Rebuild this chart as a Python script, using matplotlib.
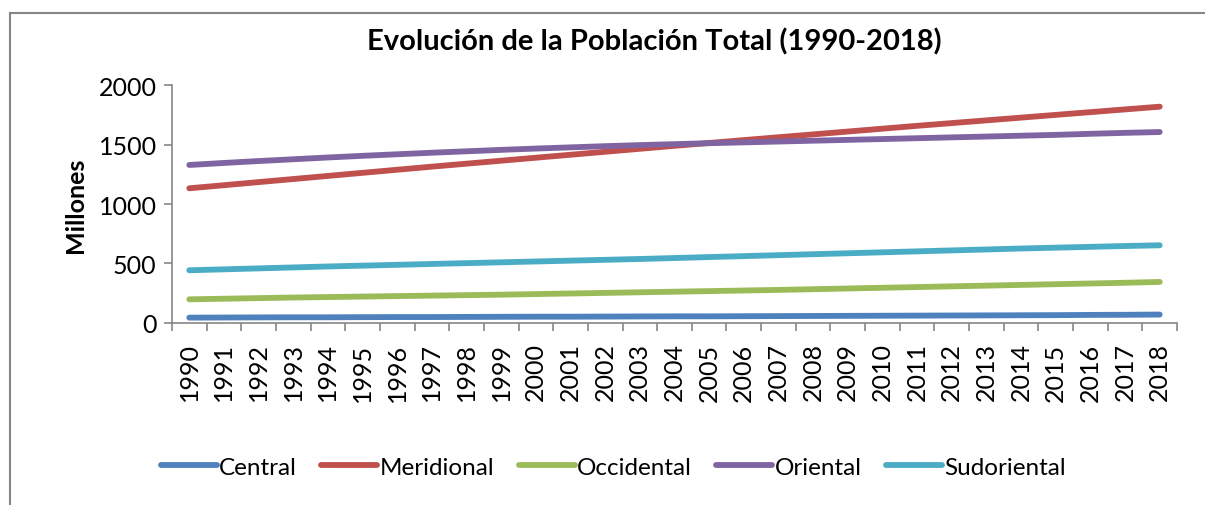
import matplotlib
matplotlib.use("Agg")
import matplotlib.pyplot as plt
from matplotlib.lines import Line2D
from matplotlib.ticker import FixedLocator

# ===== DATOS =====
years = [str(y) for y in range(1990, 2019)]
central = [45, 46, 47, 48, 48, 49, 50, 50, 51, 52, 53, 53, 54, 55, 56,
           56, 57, 58, 59, 60, 61, 62, 63, 64, 65, 66, 68, 69, 71]
meridional = [1132, 1158, 1184, 1210, 1236, 1262, 1288, 1314, 1339, 1364,
              1389, 1414, 1439, 1464, 1489, 1513, 1537, 1561, 1585, 1609,
              1633, 1657, 1680, 1703, 1726, 1749, 1772, 1795, 1818]
occidental = [199, 204, 209, 214, 218, 222, 226, 230, 234, 238, 243, 248,
              253, 258, 263, 268, 273, 278, 284, 290, 296, 302, 308, 314,
              320, 326, 332, 338, 345]
oriental = [1328, 1345, 1361, 1376, 1391, 1405, 1418, 1431, 1443, 1455,
            1466, 1476, 1486, 1495, 1503, 1511, 1518, 1525, 1532, 1539,
            1546, 1553, 1560, 1567, 1574, 1581, 1590, 1598, 1605]
sudoriental = [443, 451, 459, 467, 475, 482, 489, 496, 503, 510, 517, 524,
               531, 538, 546, 554, 562, 570, 578, 586, 594, 602, 610, 618,
               626, 633, 640, 647, 653]

series = [
    ("Central", central, "#4F81BD"),
    ("Meridional", meridional, "#C0504D"),
    ("Occidental", occidental, "#9BBB59"),
    ("Oriental", oriental, "#8064A2"),
    ("Sudoriental", sudoriental, "#4BACC6"),
]

plt.rcParams['font.family'] = ['Lato', 'DejaVu Sans']
AXIS_GRAY = "#868686"

fig = plt.figure(figsize=(12.05, 5.06), dpi=100)
ax = fig.add_axes([0.1427, 0.3597, 0.8341, 0.4703])

x = list(range(len(years)))
for name, vals, color in series:
    ax.plot(x, vals, color=color, lw=4.2, solid_capstyle="round", label=name)

ax.set_xlim(-0.5, len(years) - 0.5)
ax.set_ylim(0, 2000)
ax.set_yticks([0, 500, 1000, 1500, 2000])

# categorias: etiquetas en el centro, marcas entre categorias
ax.set_xticks(x)
ax.set_xticklabels(years, rotation=90)
ax.xaxis.set_minor_locator(FixedLocator([i - 0.5 for i in range(len(years) + 1)]))
ax.tick_params(axis="x", which="major", length=0, pad=14, labelsize=18)
ax.tick_params(axis="x", which="minor", length=6, width=1.2, color=AXIS_GRAY, direction="out")
ax.tick_params(axis="y", length=6, width=1.2, color=AXIS_GRAY, direction="out", labelsize=18, pad=5)

for side in ("top", "right"):
    ax.spines[side].set_visible(False)
for side in ("left", "bottom"):
    ax.spines[side].set_color(AXIS_GRAY)
    ax.spines[side].set_linewidth(1.2)

ax.set_ylabel("Millones", fontsize=18, fontweight="bold", labelpad=8)
fig.text(0.543, 0.917, "Evolución de la Población Total (1990-2018)",
         ha="center", va="center", fontsize=21, fontweight="bold")

fig.legend(loc="center", bbox_to_anchor=(0.509, 0.075), ncol=5, frameon=False,
           fontsize=17.5, handlelength=2.3, handletextpad=0.1, columnspacing=1.0)

# marco del grafico
fig.add_artist(Line2D([0.0083, 1.0], [0.9723, 0.9723], color=AXIS_GRAY, lw=1.5))
fig.add_artist(Line2D([0.0083, 0.0083], [0.0, 0.9723], color=AXIS_GRAY, lw=1.5))

fig.savefig("out.png", dpi=100)
